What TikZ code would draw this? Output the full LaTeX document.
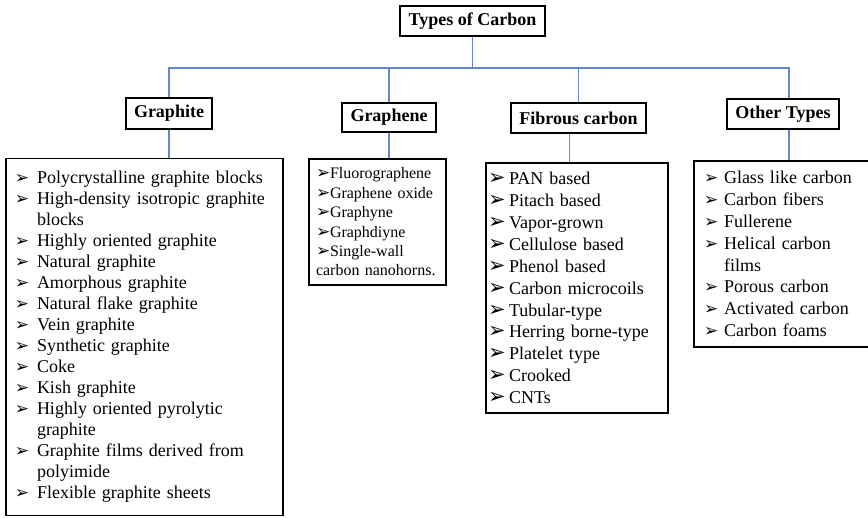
\documentclass[tikz,border=0pt]{standalone}
\usepackage{fontspec}
\setmainfont{Liberation Serif}
\newfontfamily\dejavu{DejaVu Sans}
\usepackage{tikz}
\definecolor{linkblue}{RGB}{95,138,205}

\newlength\bulw
\newcommand{\bulsz}{17}
\newcommand{\itm}[1]{\makebox[\bulw][l]{\dejavu\fontsize{\bulsz}{\bulsz}\selectfont ➢}#1}
\newcommand{\cnt}[1]{\hspace*{\bulw}#1}

\tikzset{
    head/.style = {
        draw,
        shape=rectangle,
        inner sep=0pt,
        line width=1.5pt,
        font=\bfseries\fontsize{18}{20}\selectfont
    },
    list/.style = {
        draw,
        shape=rectangle,
        inner ysep=0pt,
        align=left,
        line width=1.3pt
    },
    link/.style = {
        draw=linkblue,
        line width=1.8pt
    },
}

\begin{document}
\begin{tikzpicture}[x=1pt,y=-1pt]
                \useasboundingbox (0,0) rectangle (868,518);
                \clip (0,0) rectangle (868,518);

                \node[head, minimum width=145pt, minimum height=30pt] (types) at (472.5,21) {Types of Carbon};
                \node[head, minimum width=86pt, minimum height=31pt] (graphite) at (169,113.5) {Graphite};
                \node[head, minimum width=94pt, minimum height=29pt] (graphene) at (389,117.5) {Graphene};
                \node[head, minimum width=135pt, minimum height=30pt] (fibrous) at (578.5,118) {Fibrous carbon};
                \node[head, minimum width=112pt, minimum height=30pt] (other) at (783,114) {Other Types};
                \coordinate (bus) at (472,68);

                % lists
                \node[list, inner xsep=9pt, text width=259pt, minimum height=357pt,
                    font={\fontsize{18}{21}\selectfont\setlength\bulw{22pt}}]
                    (graphitelist) at (144.5,337) {%
                    \itm{Polycrystalline graphite blocks}\\
                    \itm{High-density isotropic graphite}\\
                    \cnt{blocks}\\
                    \itm{Highly oriented graphite}\\
                    \itm{Natural graphite}\\
                    \itm{Amorphous graphite}\\
                    \itm{Natural flake graphite}\\
                    \itm{Vein graphite}\\
                    \itm{Synthetic graphite}\\
                    \itm{Coke}\\
                    \itm{Kish graphite}\\
                    \itm{Highly oriented pyrolytic}\\
                    \cnt{graphite}\\
                    \itm{Graphite films derived from}\\
                    \cnt{polyimide}\\
                    \itm{Flexible graphite sheets}};
                \node[list, inner xsep=7pt, text width=123pt, minimum height=126pt,
                    font={\fontsize{16}{19.4}\selectfont\setlength\bulw{14pt}}]
                    (graphenelist) at (377.5,222) {%
                    \itm{Fluorographene}\\
                    \itm{Graphene oxide}\\
                    \itm{Graphyne}\\
                    \itm{Graphdiyne}\\
                    \itm{Single-wall}\\
                    carbon nanohorns.};
                \node[list, inner xsep=2pt, text width=178pt, minimum height=250pt,
                    font={\fontsize{18}{21.9}\selectfont\setlength\bulw{21pt}\renewcommand\bulsz{21}}]
                    (fibrouslist) at (577,288) {%
                    \itm{PAN based}\\
                    \itm{Pitach based}\\
                    \itm{Vapor-grown}\\
                    \itm{Cellulose based}\\
                    \itm{Phenol based}\\
                    \itm{Carbon microcoils}\\
                    \itm{Tubular-type}\\
                    \itm{Herring borne-type}\\
                    \itm{Platelet type}\\
                    \itm{Crooked}\\
                    \itm{CNTs}};
                \node[list, inner xsep=10pt, text width=180pt, minimum height=186pt,
                    font={\fontsize{18}{21.8}\selectfont\setlength\bulw{20pt}}]
                    (otherlist) at (794,254) {%
                    \itm{Glass like carbon}\\
                    \itm{Carbon fibers}\\
                    \itm{Fullerene}\\
                    \itm{Helical carbon}\\
                    \cnt{films}\\
                    \itm{Porous carbon}\\
                    \itm{Activated carbon}\\
                    \itm{Carbon foams}};

                % tree
                \path[link] (types.south) -- (types.south |- bus) -| (graphite.north);
                \path[link] (types.south |- bus) -| (graphene.north);
                \path[link] (types.south |- bus) -| (fibrous.north);
                \path[link] (types.south |- bus) -| ([xshift=6pt]other.north);
                \path[link] (graphite.south) -- (graphite.south |- graphitelist.north);
                \path[link] (graphene.south) -- (graphene.south |- graphenelist.north);
                \path[link] ([xshift=-9pt]fibrous.south) -- ([xshift=-9pt]fibrous.south |- fibrouslist.north);
                \path[link] ([xshift=6pt]other.south) -- ([xshift=6pt]other.south |- otherlist.north);
\end{tikzpicture}
\end{document}
